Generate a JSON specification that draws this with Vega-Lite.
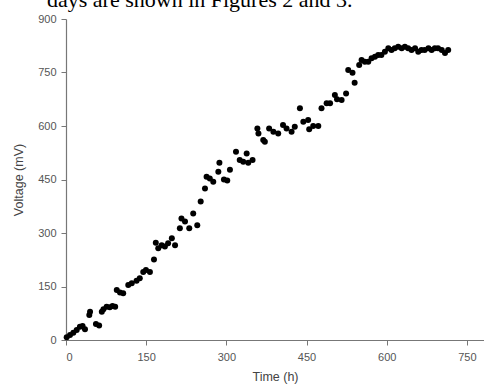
{
  "$schema": "https://vega.github.io/schema/vega-lite/v6.json",
  "width": 418,
  "height": 321,
  "autosize": {"type": "none"},
  "padding": {"left": 66, "top": 19, "right": 0, "bottom": 49},
  "background": "white",
  "title": {
    "text": "days are shown in Figures 2 and 3.",
    "anchor": "start",
    "frame": "group",
    "font": "Liberation Serif",
    "fontSize": 22,
    "fontWeight": "normal",
    "color": "black",
    "baseline": "alphabetic",
    "offset": 2,
    "dx": -19,
    "dy": 18
  },
  "config": {
    "view": {"stroke": null},
    "axis": {
      "grid": false,
      "domainColor": "#777777",
      "domainWidth": 1.2,
      "tickColor": "#777777",
      "tickSize": 5,
      "labelFont": "Liberation Sans",
      "labelFontSize": 11,
      "labelColor": "#555555",
      "titleFont": "Liberation Sans",
      "titleFontSize": 12.5,
      "titleFontWeight": "normal",
      "titleColor": "#444444"
    }
  },
  "data": {
    "values": [
      {"t": 1.3, "v": 7.6}, {"t": 7.5, "v": 14}, {"t": 13.7, "v": 20.5}, {"t": 20, "v": 28},
      {"t": 26, "v": 37}, {"t": 31, "v": 39}, {"t": 35.5, "v": 30}, {"t": 43.6, "v": 70},
      {"t": 45, "v": 79}, {"t": 56, "v": 45}, {"t": 62, "v": 41}, {"t": 67, "v": 79},
      {"t": 70, "v": 86}, {"t": 76, "v": 93}, {"t": 82, "v": 92}, {"t": 87, "v": 95},
      {"t": 92, "v": 93}, {"t": 95, "v": 140}, {"t": 101, "v": 133}, {"t": 107, "v": 131},
      {"t": 116.5, "v": 154}, {"t": 123, "v": 159}, {"t": 132, "v": 166}, {"t": 138, "v": 173},
      {"t": 144.5, "v": 191}, {"t": 149.6, "v": 196}, {"t": 157, "v": 191}, {"t": 164.6, "v": 226},
      {"t": 168, "v": 273}, {"t": 172.6, "v": 257}, {"t": 179, "v": 266}, {"t": 185, "v": 262},
      {"t": 191, "v": 271}, {"t": 198, "v": 285}, {"t": 204, "v": 266}, {"t": 213, "v": 313},
      {"t": 216, "v": 341}, {"t": 222.6, "v": 332}, {"t": 230.6, "v": 313}, {"t": 238, "v": 355},
      {"t": 245.6, "v": 322}, {"t": 252, "v": 388}, {"t": 260, "v": 425}, {"t": 263, "v": 458},
      {"t": 269, "v": 453}, {"t": 275.5, "v": 444}, {"t": 285, "v": 472}, {"t": 287, "v": 497},
      {"t": 295.5, "v": 450}, {"t": 301.7, "v": 447}, {"t": 306.7, "v": 477}, {"t": 318, "v": 528},
      {"t": 325, "v": 505}, {"t": 331.6, "v": 500}, {"t": 338, "v": 523}, {"t": 341, "v": 497},
      {"t": 349, "v": 505}, {"t": 358, "v": 593}, {"t": 360, "v": 579}, {"t": 369, "v": 561},
      {"t": 372, "v": 556}, {"t": 380, "v": 593}, {"t": 388, "v": 584}, {"t": 397, "v": 579},
      {"t": 406, "v": 603}, {"t": 412.6, "v": 593}, {"t": 422, "v": 584}, {"t": 428, "v": 598},
      {"t": 437.6, "v": 650}, {"t": 444, "v": 612}, {"t": 453, "v": 617}, {"t": 455, "v": 591},
      {"t": 462.5, "v": 600}, {"t": 472, "v": 600}, {"t": 478, "v": 650}, {"t": 487.6, "v": 664},
      {"t": 494, "v": 664}, {"t": 503, "v": 687}, {"t": 507, "v": 675}, {"t": 515.6, "v": 673},
      {"t": 524, "v": 691}, {"t": 528, "v": 757}, {"t": 536, "v": 749}, {"t": 540, "v": 721},
      {"t": 548.5, "v": 771}, {"t": 553, "v": 785}, {"t": 559, "v": 780}, {"t": 565.5, "v": 780},
      {"t": 571.7, "v": 790}, {"t": 578, "v": 794}, {"t": 584, "v": 799}, {"t": 590, "v": 799},
      {"t": 596.6, "v": 808}, {"t": 603, "v": 818}, {"t": 609, "v": 813}, {"t": 615, "v": 818},
      {"t": 621.5, "v": 822}, {"t": 628, "v": 818}, {"t": 634, "v": 822}, {"t": 640, "v": 818},
      {"t": 646.5, "v": 813}, {"t": 653, "v": 818}, {"t": 659, "v": 808}, {"t": 665, "v": 813},
      {"t": 671, "v": 813}, {"t": 678, "v": 818}, {"t": 684, "v": 813}, {"t": 690, "v": 818},
      {"t": 696, "v": 818}, {"t": 703, "v": 813}, {"t": 709, "v": 805}, {"t": 715, "v": 813}
    ]
  },
  "mark": {"type": "circle", "color": "black", "opacity": 1, "size": 36},
  "encoding": {
    "x": {
      "field": "t",
      "type": "quantitative",
      "scale": {"domain": [0, 782], "nice": false, "zero": true},
      "axis": {"title": "Time (h)", "values": [0, 150, 300, 450, 600, 750], "labelPadding": 6, "titlePadding": 8}
    },
    "y": {
      "field": "v",
      "type": "quantitative",
      "scale": {"domain": [0, 900], "nice": false},
      "axis": {"title": "Voltage (mV)", "values": [0, 150, 300, 450, 600, 750, 900], "labelPadding": 5, "titlePadding": 12}
    }
  }
}
